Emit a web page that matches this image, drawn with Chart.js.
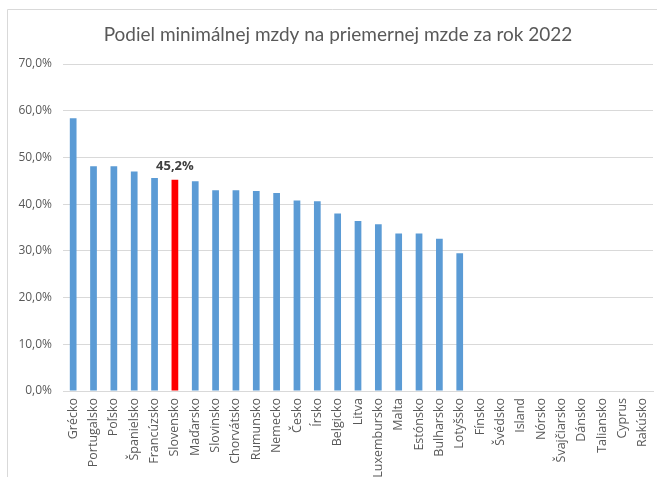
<!DOCTYPE html>
<html>
<head>
<meta charset="utf-8">
<script src="https://cdn.jsdelivr.net/npm/chart.js@4"></script>
<style>
  body { margin: 0; background: #fff; }
  canvas { display: block; }
</style>
</head>
<body>
<canvas id="wageChart" width="657" height="477"></canvas>
<script>
// Data
const countries = ['Grécko', 'Portugalsko', 'Poľsko', 'Španielsko', 'Francúzsko', 'Slovensko', 'Maďarsko',
  'Slovinsko', 'Chorvátsko', 'Rumunsko', 'Nemecko', 'Česko', 'Írsko', 'Belgicko', 'Litva', 'Luxembursko',
  'Malta', 'Estónsko', 'Bulharsko', 'Lotyšsko', 'Fínsko', 'Švédsko', 'Island', 'Nórsko', 'Švajčiarsko',
  'Dánsko', 'Taliansko', 'Cyprus', 'Rakúsko'];
const shares = [58.4, 48.1, 48.1, 47.0, 45.6, 45.2, 44.9, 43.0, 43.0, 42.8, 42.4, 40.8, 40.6, 38.0, 36.4,
  35.7, 33.7, 33.7, 32.6, 29.5, null, null, null, null, null, null, null, null, null];
const yTicks = [0, 10, 20, 30, 40, 50, 60, 70];
const highlight = 'Slovensko';
const titleText = 'Podiel minimálnej mzdy na priemernej mzde za rok 2022';

const blue = '#5b9bd5';
const red = '#ff0000';
const textColor = '#595959';
const gridColor = '#d9d9d9';

const fmt = v => v.toFixed(1).replace('.', ',') + '%';

// frame + title + label for the highlighted bar
const extras = {
  id: 'extras',
  beforeDraw(chart) {
    const ctx = chart.ctx;
    ctx.save();
    ctx.strokeStyle = gridColor;
    ctx.lineWidth = 1;
    ctx.beginPath();
    ctx.moveTo(7.5, 477);
    ctx.lineTo(7.5, 9.5);
    ctx.lineTo(657, 9.5);
    ctx.stroke();
    ctx.restore();
  },
  afterDraw(chart) {
    const ctx = chart.ctx;
    ctx.save();
    ctx.fillStyle = textColor;
    ctx.font = '19px Lato';
    ctx.textAlign = 'center';
    ctx.textBaseline = 'middle';
    ctx.fillText(titleText, 338, 35);

    const i = countries.indexOf(highlight);
    const bar = chart.getDatasetMeta(0).data[i];
    ctx.fillStyle = '#404040';
    ctx.font = 'bold 13px "Open Sans"';
    ctx.textBaseline = 'alphabetic';
    ctx.fillText(fmt(shares[i]), bar.x, bar.y - 10);
    ctx.restore();
  }
};

new Chart(document.getElementById('wageChart'), {
  type: 'bar',
  data: {
    labels: countries,
    datasets: [{
      data: shares,
      backgroundColor: countries.map(c => c === highlight ? red : blue),
      barPercentage: 0.33,
      categoryPercentage: 1
    }]
  },
  options: {
    responsive: false,
    animation: false,
    layout: { padding: { top: 64, left: 0, right: 4, bottom: 0 } },
    plugins: {
      legend: { display: false },
      title: { display: false },
      tooltip: { enabled: false }
    },
    scales: {
      x: {
        grid: { display: false, drawTicks: false },
        border: { color: gridColor },
        ticks: {
          color: textColor,
          font: { family: 'Open Sans', size: 12.5 },
          autoSkip: false,
          minRotation: 90,
          maxRotation: 90,
          padding: 7
        },
        afterFit: s => {
          s.height = 86;
          s.paddingLeft = 0;
          s.paddingRight = 0;
        }
      },
      y: {
        min: 0,
        max: 70,
        afterBuildTicks: s => { s.ticks = yTicks.map(v => ({ value: v })); },
        grid: { color: gridColor, drawTicks: false },
        border: { display: false },
        ticks: {
          color: textColor,
          font: { family: 'Open Sans', size: 12 },
          padding: 11,
          callback: v => fmt(v)
        },
        afterFit: s => { s.width = 63; }
      }
    }
  },
  plugins: [extras]
});
</script>
</body>
</html>
